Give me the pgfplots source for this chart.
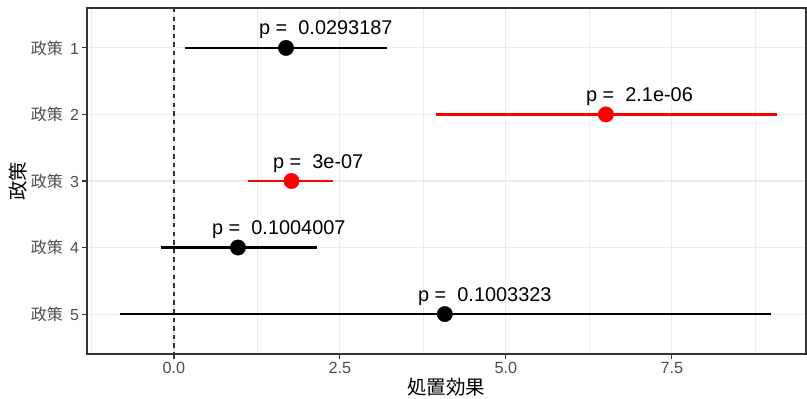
\documentclass[border=0pt]{standalone}
\usepackage{fontspec}
\setmainfont{Liberation Sans}
\newfontfamily\cjk{Noto Sans CJK JP}
\usepackage{pgfplots}
\pgfplotsset{compat=1.18}
\definecolor{gridc}{HTML}{EBEBEB}
\definecolor{tickc}{HTML}{333333}
\definecolor{ticklab}{HTML}{4D4D4D}
\begin{document}
\begin{tikzpicture}
\begin{axis}[
  at={(0,0)}, anchor=south west,
  scale only axis, width=719pt, height=346pt,
  xmin=-1.31, xmax=9.52, ymin=0.4, ymax=5.6, y dir=reverse,
  xtick={0,2.5,5,7.5}, minor xtick={-1.25,1.25,3.75,6.25,8.75},
  xticklabels={0.0,2.5,5.0,7.5},
  ytick={1,2,3,4,5},
  yticklabels={{\cjk 政策}\ \,1,{\cjk 政策}\ \,2,{\cjk 政策}\ \,3,{\cjk 政策}\ \,4,{\cjk 政策}\ \,5},
  grid=both,
  major grid style={gridc, line width=1.07pt},
  minor grid style={gridc, line width=0.53pt},
  tick align=outside, major tick length=4.5pt, minor tick length=0pt,
  tick style={tickc, line width=1.07pt},
  xtick pos=left, ytick pos=left,
  axis line style={tickc, line width=1.07pt},
  /pgf/number format/assume math mode=true,
  xticklabel style={font=\fontsize{16.2}{18}\selectfont, text=ticklab},
  yticklabel style={font=\fontsize{16}{18}\selectfont, text=ticklab},
  xlabel={\cjk 処置効果},
  ylabel={\cjk 政策},
  xlabel style={font=\fontsize{19.5}{22}\selectfont, at={(axis description cs:0.5,-0.0954)}, anchor=center},
  ylabel style={font=\fontsize{19.5}{22}\selectfont, at={(axis description cs:-0.096,0.5)}, anchor=center, rotate=0},
  clip=false,
]
\addplot[tickc, line width=1.1pt, dash pattern=on 4.3pt off 4.3pt] coordinates {(0,0.4) (0,5.6)};
% confidence intervals
\addplot[black, line width=2.4pt] coordinates {(0.166,1) (3.208,1)};
\addplot[red, line width=2.4pt] coordinates {(3.946,2) (9.081,2)};
\addplot[red, line width=2.4pt] coordinates {(1.114,3) (2.395,3)};
\addplot[black, line width=2.4pt] coordinates {(-0.196,4) (2.154,4)};
\addplot[black, line width=2.4pt] coordinates {(-0.813,5) (8.99,5)};
% point estimates
\addplot[only marks, mark=*, mark size=7.7pt, black] coordinates {(1.687,1) (0.964,4) (4.08,5)};
\addplot[only marks, mark=*, mark size=7.7pt, red, mark options={fill=red}] coordinates {(6.506,2) (1.77,3)};
% p-value labels
\begin{scope}[every node/.style={anchor=base west, inner sep=0pt, font=\fontsize{19.9}{22}\selectfont, yshift=13pt}]
\node at (axis cs:1.28,1) {p =\ \ 0.0293187};
\node at (axis cs:6.205,2) {p =\ \ 2.1e-06};
\node at (axis cs:1.491,3) {p =\ \ 3e-07};
\node at (axis cs:0.572,4) {p =\ \ 0.1004007};
\node at (axis cs:3.675,5) {p =\ \ 0.1003323};
\end{scope}
\end{axis}
\pgfresetboundingbox
\path (-87pt,-45pt) rectangle (720pt,354pt);
\end{tikzpicture}
\end{document}
